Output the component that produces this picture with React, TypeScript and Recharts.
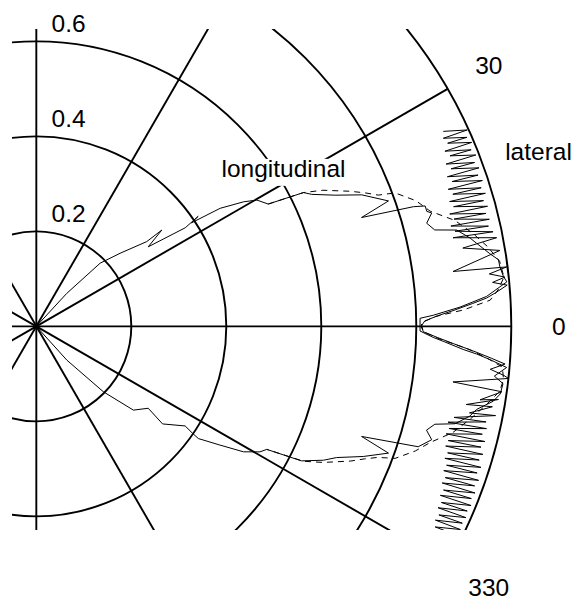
import { ScatterChart, Scatter, XAxis, YAxis, ReferenceLine, ReferenceDot } from 'recharts';

// polar readings: [angle in degrees, radius]
const longitudinal: [number, number][] = [
  [47, 0], [47.3, 0.094], [44.7, 0.189], [41.1, 0.234], [37.5, 0.293], [37.5, 0.333], [35.4, 0.289],
  [33.5, 0.376], [34.2, 0.412], [33.7, 0.393], [32.7, 0.46], [31.0, 0.509], [29.8, 0.535], [27.8, 0.552],
  [26.6, 0.629], [25.6, 0.643], [23.7, 0.687], [22.0, 0.739], [19.6, 0.787], [18.5, 0.722], [17.6, 0.833],
  [17.2, 0.857], [16.4, 0.857], [16.0, 0.866], [14.8, 0.85], [13.6, 0.863], [12.9, 0.908], [11.5, 0.932],
  [10.7, 0.943], [9.1, 0.967], [8.2, 0.983], [7.3, 0.984], [6.1, 0.989], [5.4, 0.995], [3.8, 0.95],
  [2.6, 0.893], [1.6, 0.836], [1.2, 0.808], [-0.7, 0.808], [-1.6, 0.836], [-2.1, 0.857], [-3.1, 0.9],
  [-3.6, 0.929], [-4.2, 0.958], [-5.0, 0.994], [-6.2, 0.97], [-7.0, 0.99], [-8.3, 0.987], [-9.3, 0.975],
  [-10.7, 0.943], [-11.7, 0.932], [-13.1, 0.905], [-13.8, 0.864], [-14.9, 0.85], [-16.0, 0.866],
  [-17.5, 0.843], [-18.7, 0.723], [-19.8, 0.788], [-21.7, 0.741], [-23.6, 0.69], [-25.0, 0.667],
  [-26.9, 0.626], [-28.1, 0.55], [-29.3, 0.54], [-31.2, 0.51], [-32.9, 0.46], [-34.7, 0.415],
  [-34.4, 0.399], [-33.8, 0.377], [-37.7, 0.336], [-36.2, 0.292], [-40.8, 0.27], [-44.3, 0.197],
  [-47.9, 0.096], [-47, 0],
];

// dashed trace, only visible where it leaves the solid one
const longitudinalDashed: [number, number][] = [
  [27.8, 0.552], [26.6, 0.629], [25.4, 0.668], [23.3, 0.719], [22.1, 0.747], [21.0, 0.771], [20.4, 0.806],
  [18.3, 0.842], [16.3, 0.864], [14.2, 0.909], [12.0, 0.94], [10.0, 0.965], [8.0, 0.985], [6.0, 0.99],
  [4.5, 0.975], [3.3, 0.957], [2.2, 0.9], [1.4, 0.84], [0.5, 0.81], [-0.8, 0.815], [-1.8, 0.85],
  [-3.0, 0.91], [-4.0, 0.95], [-5.0, 0.985], [-6.5, 0.99], [-8.0, 0.985], [-10.0, 0.96], [-12.0, 0.935],
  [-14.3, 0.905], [-16.4, 0.865], [-18.2, 0.84], [-20.2, 0.805], [-21.0, 0.77], [-22.0, 0.745],
  [-23.2, 0.72], [-25.4, 0.668], [-26.8, 0.63], [-28.1, 0.55],
];

const lateral: [number, number][] = [
  [25.6, 0.95], [24.5, 0.997], [24.8, 0.944], [23.7, 0.99], [24.0, 0.948], [22.9, 0.995], [23.2, 0.936],
  [22.1, 0.988], [22.4, 0.942], [21.3, 0.993], [21.6, 0.928], [20.5, 0.985], [20.8, 0.934], [19.7, 0.99],
  [20.0, 0.921], [18.9, 0.983], [19.2, 0.927], [18.1, 0.988], [18.4, 0.914], [17.3, 0.981], [17.6, 0.92],
  [16.5, 0.986], [16.8, 0.909], [15.7, 0.978], [16.0, 0.914], [14.9, 0.983], [15.2, 0.902], [14.1, 0.976],
  [14.4, 0.908], [13.3, 0.98], [13.6, 0.898], [12.5, 0.975], [12.8, 0.904], [11.7, 0.982], [12.0, 0.897],
  [10.9, 0.987], [10.4, 0.913], [9.3, 0.989], [7.5, 0.885], [7.2, 0.998], [6.6, 0.96], [6.0, 0.992],
  [5.5, 0.965], [5.0, 0.995], [4.2, 0.97], [3.6, 0.95], [3.0, 0.92], [2.2, 0.88], [1.5, 0.845],
  [0.8, 0.818], [0, 0.81], [-0.8, 0.815], [-1.6, 0.845], [-2.4, 0.88], [-3.2, 0.92], [-4.0, 0.96],
  [-4.6, 0.99], [-5.4, 0.96], [-6.0, 0.99], [-6.3, 1.0], [-7.6, 0.885], [-8.0, 0.99], [-9.4, 0.947],
  [-9.0, 0.985], [-10.3, 0.92], [-10.0, 0.975], [-11.3, 0.93], [-11.0, 0.985], [-12.3, 0.9],
  [-12.0, 0.968], [-13.1, 0.89], [-12.8, 0.972], [-13.9, 0.895], [-13.6, 0.966], [-14.7, 0.892],
  [-14.4, 0.975], [-15.5, 0.9], [-15.2, 0.97], [-16.3, 0.898], [-16.0, 0.978], [-17.1, 0.906],
  [-16.8, 0.974], [-17.9, 0.904], [-17.6, 0.982], [-18.7, 0.912], [-18.4, 0.978], [-19.5, 0.91],
  [-19.2, 0.986], [-20.3, 0.918], [-20.0, 0.982], [-21.1, 0.916], [-20.8, 0.988], [-21.9, 0.924],
  [-21.6, 0.985], [-22.7, 0.922], [-22.4, 0.99], [-23.5, 0.93], [-23.2, 0.987], [-24.3, 0.928],
  [-24.0, 0.99], [-25.1, 0.936], [-24.8, 0.988], [-25.9, 0.934], [-25.6, 0.99], [-26.7, 0.94],
  [-26.4, 0.99], [-27.5, 0.942], [-27.2, 0.99],
];

const RINGS = [0.2, 0.4, 0.6, 0.8, 1.0];
const RING_LABELS = [0.2, 0.4, 0.6];
const SPOKES = [0, 30, 60, 90, 120, 150, 180, 210, 240, 270, 300, 330];
const ANGLE_LABELS = [0, 30, 330];

const W = 576;
const H = 602;
const MARGIN = { top: 29, right: 59, bottom: 72, left: 12 };
const X_MIN = -0.0512;
const X_MAX = 1.012;
const Y_MAX = 0.626;
const PLOT_W = W - MARGIN.left - MARGIN.right;
const PLOT_H = H - MARGIN.top - MARGIN.bottom;
const PX = PLOT_W / (X_MAX - X_MIN); // px per unit, same on both axes
const Y_MIN = Y_MAX - PLOT_H / PX;

const FONT = 'Liberation Sans, Arial, Helvetica, sans-serif';
const FS = 24.5;
const GRID = 1.9;
const TRACE = 1;

const rad = (d: number) => (d * Math.PI) / 180;
const toXY = (pts: [number, number][]) =>
  pts.map(([a, r]) => ({ x: r * Math.cos(rad(a)), y: r * Math.sin(rad(a)) }));

const noDot = () => <g />;

const textLabel = (value: string) => ({
  value,
  position: 'center' as const,
  fill: '#000',
  fontSize: FS,
  fontFamily: FONT,
});

// white background behind the "longitudinal" text
const whiteBox = (props: any) => (
  <rect x={props.cx - 66} y={props.cy - 9.5} width={132} height={27} fill="#fff" />
);

export default function App() {
  return (
    <div style={{ position: 'absolute', left: 0, top: 0, width: W, height: H }}>
      <ScatterChart width={W} height={H} margin={MARGIN}>
        <XAxis type="number" dataKey="x" domain={[X_MIN, X_MAX]} allowDataOverflow hide />
        <YAxis type="number" dataKey="y" domain={[Y_MIN, Y_MAX]} allowDataOverflow hide />

        {RINGS.map((r) => (
          <ReferenceDot key={`ring${r}`} x={0} y={0} r={r * PX} fill="none" stroke="#000"
            strokeWidth={GRID} ifOverflow="hidden" />
        ))}
        {SPOKES.map((a) => (
          <ReferenceLine key={`spoke${a}`} ifOverflow="hidden" stroke="#000" strokeWidth={GRID}
            segment={[{ x: 0, y: 0 }, { x: Math.cos(rad(a)), y: Math.sin(rad(a)) }]} />
        ))}

        <ReferenceDot x={0.5204} y={0.3326} r={0} shape={whiteBox} ifOverflow="visible"
          label={textLabel('longitudinal')} zIndex={1500} />

        <Scatter data={toXY(longitudinal)} fill="none" shape={noDot} line={{ stroke: '#000', strokeWidth: TRACE }}
          lineType="joint" isAnimationActive={false} />
        <Scatter data={toXY(longitudinalDashed)} fill="none" shape={noDot}
          line={{ stroke: '#000', strokeWidth: TRACE, strokeDasharray: '6 5' }} lineType="joint"
          isAnimationActive={false} />
        <Scatter data={toXY(lateral)} fill="none" shape={noDot} line={{ stroke: '#000', strokeWidth: TRACE }}
          lineType="joint" isAnimationActive={false} />

        {RING_LABELS.map((r) => (
          <ReferenceDot key={`rl${r}`} x={0.068} y={r + 0.038} r={0} fill="none" stroke="none"
            ifOverflow="visible" label={textLabel(String(r))} />
        ))}
        {ANGLE_LABELS.map((a) => (
          <ReferenceDot key={`al${a}`} x={1.1 * Math.cos(rad(a))} y={1.1 * Math.sin(rad(a))} r={0}
            fill="none" stroke="none" ifOverflow="visible" label={textLabel(String(a))} />
        ))}
        <ReferenceDot x={1.0573} y={0.368} r={0} fill="none" stroke="none" ifOverflow="visible"
          label={textLabel('lateral')} />
      </ScatterChart>
    </div>
  );
}
